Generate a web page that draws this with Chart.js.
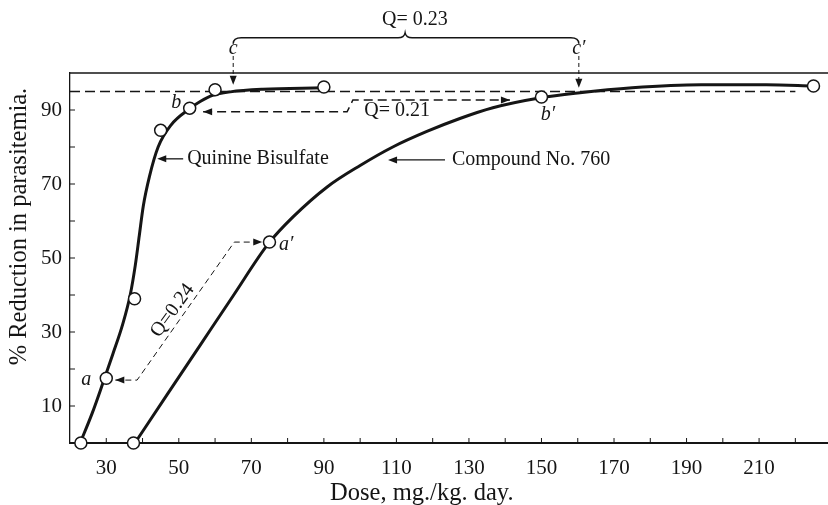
<!DOCTYPE html>
<html>
<head>
<meta charset="utf-8">
<title>Quinine vs Compound 760</title>
<script src="https://cdn.jsdelivr.net/npm/chart.js@4.4.1/dist/chart.umd.min.js"></script>
<style>
  html, body { margin: 0; padding: 0; background: #fff; }
</style>
</head>
<body>
<canvas id="doseChart" width="828" height="505"></canvas>
<script>
// observed points (circles)
const quinineDose = [23, 30, 37.8, 45, 53, 60, 90];
const quininePct = [0, 17.5, 39, 84.5, 90.5, 95.5, 96.2];
const compoundDose = [37.5, 75, 150, 225];
const compoundPct = [0, 54.3, 93.5, 96.5];

// fitted curves as drawn by hand
const quinineCurveDose = [22.8, 26.1, 29, 31.8, 34.5, 36.6, 38, 39.1, 40.2, 41.9, 44.3, 47.9, 52.9, 55.9, 59.5, 64.2, 73.2, 89.5];
const quinineCurvePct = [0, 8, 16, 24, 32, 40, 48, 56, 64, 72, 80, 86, 90.3, 92.3, 94, 94.9, 95.6, 96];
const compoundCurveDose = [37.9, 47, 56, 65, 74.8, 81.5, 90.9, 100, 109, 118.4, 127.5, 136.6, 149.8, 160, 175, 194, 212, 225];
const compoundCurvePct = [0, 13.4, 26.6, 39.8, 54, 61.1, 69.2, 75, 80, 84.2, 87.7, 90.6, 93.3, 94.6, 96, 96.8, 96.8, 96.5];

// dashed guide lines
const levelDose = [20, 220];
const levelPct = [95, 95];
const bPathDose = [56.7, 96.4, 98, 141.3];
const bPathPct = [89.5, 89.5, 92.7, 92.7];
const aPathDose = [32.5, 38.5, 65.3, 73];
const aPathPct = [17, 17, 54.3, 54.3];

// ticks
const xTickMarks = [20, 30, 40, 50, 60, 70, 80, 90, 100, 110, 120, 130, 140, 150, 160, 170, 180, 190, 200, 210, 220];
const xTickLabels = [30, 50, 70, 90, 110, 130, 150, 170, 190, 210];
const yTickLabels = [10, 30, 50, 70, 90];

const INK = "#151515";
const SERIF = "'Liberation Serif', 'Times New Roman', serif";

function toPoints(xs, ys) {
  return xs.map((x, i) => ({ x, y: ys[i] }));
}

function arrowHead(ctx, x, y, fromX, fromY) {
  const ang = Math.atan2(y - fromY, x - fromX);
  ctx.save();
  ctx.translate(x, y);
  ctx.rotate(ang);
  ctx.beginPath();
  ctx.moveTo(0, 0);
  ctx.lineTo(-9, -3.5);
  ctx.lineTo(-9, 3.5);
  ctx.closePath();
  ctx.fill();
  ctx.restore();
}

// labels and notes, in data units
const notes = [
  { text: "Q= 0.23", x: 115.1, y: 114.3, align: "center" },
  { text: "Q= 0.21", x: 110.2, y: 89.7, align: "center" },
  { text: "Quinine Bisulfate", x: 52.3, y: 76.8, align: "left" },
  { text: "Compound No. 760", x: 125.3, y: 76.5, align: "left" },
  { text: "Q=0.24", x: 48.3, y: 35.8, align: "center", rot: -54 },
  { text: "a", x: 24.5, y: 17, align: "center", italic: true },
  { text: "b", x: 49.3, y: 91.9, align: "center", italic: true },
  { text: "a\u2032", x: 79.6, y: 53.5, align: "center", italic: true },
  { text: "b\u2032", x: 151.8, y: 88.6, align: "center", italic: true },
  { text: "c", x: 65, y: 106.5, align: "center", italic: true },
  { text: "c\u2032", x: 160.3, y: 106.5, align: "center", italic: true },
];

// short solid pointer arrows [fromX, toX, y]
const pointers = [
  [51.2, 44.05, 76.8],
  [123.4, 107.7, 76.5],
];

const notesPlugin = {
  id: "notes",
  afterDatasetsDraw(chart) {
    const { ctx, chartArea } = chart;
    const xs = chart.scales.x;
    const ys = chart.scales.y;
    const px = (v) => xs.getPixelForValue(v);
    const py = (v) => ys.getPixelForValue(v);

    ctx.save();
    ctx.strokeStyle = INK;
    ctx.fillStyle = INK;

    // top frame line
    ctx.lineWidth = 1.5;
    ctx.beginPath();
    ctx.moveTo(chartArea.left, chartArea.top);
    ctx.lineTo(chartArea.right, chartArea.top);
    ctx.stroke();

    // inward tick marks
    ctx.lineWidth = 1;
    xs.ticks.forEach((t) => {
      if (t.value <= 20) return;
      const x = px(t.value);
      ctx.beginPath();
      ctx.moveTo(x, chartArea.bottom);
      ctx.lineTo(x, chartArea.bottom - 5);
      ctx.stroke();
    });
    ys.ticks.forEach((t) => {
      if (t.value <= 0 || t.value >= 100) return;
      const y = py(t.value);
      ctx.beginPath();
      ctx.moveTo(chartArea.left, y);
      ctx.lineTo(chartArea.left + 5, y);
      ctx.stroke();
    });

    // arrowheads on dashed paths
    chart.data.datasets.forEach((ds, i) => {
      if (!ds.arrowStart && !ds.arrowEnd) return;
      const pts = chart.getDatasetMeta(i).data;
      if (ds.arrowStart) arrowHead(ctx, pts[0].x, pts[0].y, pts[1].x, pts[1].y);
      if (ds.arrowEnd) {
        const n = pts.length;
        arrowHead(ctx, pts[n - 1].x, pts[n - 1].y, pts[n - 2].x, pts[n - 2].y);
      }
    });

    // pointer arrows to the curves
    ctx.lineWidth = 1.3;
    pointers.forEach(([from, to, y]) => {
      ctx.beginPath();
      ctx.moveTo(px(from), py(y));
      ctx.lineTo(px(to) + 6, py(y));
      ctx.stroke();
      arrowHead(ctx, px(to), py(y), px(from), py(y));
    });

    // curly brace over c .. c'
    const L = px(65), R = px(160.3), C = px(112.4), yb = py(109.5);
    ctx.lineWidth = 1.5;
    ctx.beginPath();
    ctx.moveTo(L, yb + 6);
    ctx.quadraticCurveTo(L, yb, L + 8, yb);
    ctx.lineTo(C - 7, yb);
    ctx.quadraticCurveTo(C - 1, yb, C, yb - 5);
    ctx.quadraticCurveTo(C + 1, yb, C + 7, yb);
    ctx.lineTo(R - 8, yb);
    ctx.quadraticCurveTo(R, yb, R, yb + 6);
    ctx.stroke();

    // dashed drop arrows from c and c'
    const drops = [[65, 96.8], [160.3, 96]];
    ctx.lineWidth = 1;
    ctx.setLineDash([4, 3]);
    drops.forEach(([v, tip]) => {
      ctx.beginPath();
      ctx.moveTo(px(v), py(104.6));
      ctx.lineTo(px(v), py(tip) - 6);
      ctx.stroke();
    });
    ctx.setLineDash([]);
    drops.forEach(([v, tip]) => {
      arrowHead(ctx, px(v), py(tip), px(v), py(104.6));
    });

    // text notes
    ctx.textBaseline = "middle";
    notes.forEach((n) => {
      ctx.font = (n.italic ? "italic " : "") + "20px " + SERIF;
      ctx.textAlign = n.align;
      ctx.save();
      ctx.translate(px(n.x), py(n.y));
      if (n.rot) ctx.rotate((n.rot * Math.PI) / 180);
      ctx.fillText(n.text, 0, 0);
      ctx.restore();
    });

    // axis titles
    ctx.font = "24.5px " + SERIF;
    ctx.textAlign = "center";
    ctx.fillText("Dose, mg./kg. day.", px(117), 494);
    ctx.save();
    ctx.translate(20, py(58.5));
    ctx.rotate(-Math.PI / 2);
    ctx.fillText("% Reduction in parasitemia.", 0, 0);
    ctx.restore();

    ctx.restore();
  },
};

const canvas = document.getElementById("doseChart");

new Chart(canvas.getContext("2d"), {
  type: "scatter",
  data: {
    datasets: [
      {
        label: "Quinine observed",
        data: toPoints(quinineDose, quininePct),
        pointRadius: 6,
        pointBackgroundColor: "#fff",
        pointBorderColor: INK,
        pointBorderWidth: 1.5,
        clip: false,
      },
      {
        label: "Compound observed",
        data: toPoints(compoundDose, compoundPct),
        pointRadius: 6,
        pointBackgroundColor: "#fff",
        pointBorderColor: INK,
        pointBorderWidth: 1.5,
        clip: false,
      },
      {
        label: "Quinine Bisulfate",
        data: toPoints(quinineCurveDose, quinineCurvePct),
        showLine: true,
        cubicInterpolationMode: "monotone",
        borderColor: INK,
        borderWidth: 3,
        pointRadius: 0,
        clip: false,
      },
      {
        label: "Compound No. 760",
        data: toPoints(compoundCurveDose, compoundCurvePct),
        showLine: true,
        cubicInterpolationMode: "monotone",
        borderColor: INK,
        borderWidth: 3,
        pointRadius: 0,
        clip: false,
      },
      {
        label: "95% level",
        data: toPoints(levelDose, levelPct),
        showLine: true,
        borderColor: INK,
        borderWidth: 1.6,
        borderDash: [10, 5],
        pointRadius: 0,
      },
      {
        label: "b to b'",
        data: toPoints(bPathDose, bPathPct),
        showLine: true,
        borderColor: INK,
        borderWidth: 1.5,
        borderDash: [9, 5],
        pointRadius: 0,
        arrowStart: true,
        arrowEnd: true,
      },
      {
        label: "a to a'",
        data: toPoints(aPathDose, aPathPct),
        showLine: true,
        borderColor: INK,
        borderWidth: 1,
        borderDash: [6, 4],
        pointRadius: 0,
        arrowStart: true,
        arrowEnd: true,
      },
    ],
  },
  options: {
    responsive: false,
    animation: false,
    events: [],
    layout: {
      autoPadding: false,
      padding: { top: 73, right: 0, bottom: 0, left: 0 },
    },
    plugins: {
      legend: { display: false },
      tooltip: { enabled: false },
    },
    scales: {
      x: {
        type: "linear",
        min: 20,
        max: 229,
        afterBuildTicks: (scale) => {
          scale.ticks = xTickMarks.map((v) => ({ value: v }));
        },
        afterFit: (scale) => { scale.height = 62; },
        grid: {
          drawOnChartArea: false,
          drawTicks: true,
          tickLength: 13,
          tickColor: "rgba(0,0,0,0)",
        },
        border: { display: true, color: INK, width: 2 },
        ticks: {
          autoSkip: false,
          maxRotation: 0,
          padding: 0,
          color: INK,
          font: { family: SERIF, size: 21 },
          callback: (v) => (xTickLabels.includes(v) ? String(v) : ""),
        },
      },
      y: {
        min: 0,
        max: 100,
        afterFit: (scale) => { scale.width = 70; },
        grid: {
          drawOnChartArea: false,
          drawTicks: true,
          tickLength: 8,
          tickColor: "rgba(0,0,0,0)",
        },
        border: { display: true, color: INK, width: 1.3 },
        ticks: {
          stepSize: 10,
          autoSkip: false,
          padding: 0,
          color: INK,
          font: { family: SERIF, size: 21 },
          callback: (v) => (yTickLabels.includes(v) ? String(v) : ""),
        },
      },
    },
  },
  plugins: [notesPlugin],
});
</script>
</body>
</html>
